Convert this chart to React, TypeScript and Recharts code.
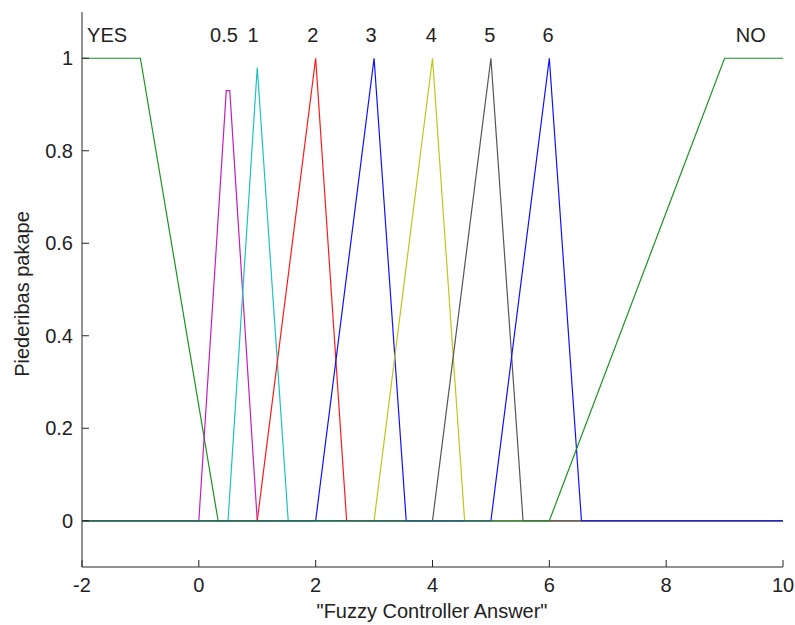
import React from 'react';
import { LineChart, Line, XAxis, YAxis, ReferenceDot } from 'recharts';

// membership functions, as [x, degree] vertices
const mfYes = [[-2, 1], [-1, 1], [0.33, 0], [10, 0]];
const mfHalf = [[-2, 0], [0, 0], [0.47, 0.93], [0.53, 0.93], [1, 0], [10, 0]];
const mfOne = [[-2, 0], [0.5, 0], [1, 0.98], [1.53, 0], [10, 0]];
const mfTwo = [[-2, 0], [1, 0], [2, 1], [2.53, 0], [10, 0]];
const mfThree = [[-2, 0], [2, 0], [3, 1], [3.55, 0], [10, 0]];
const mfFour = [[-2, 0], [3, 0], [4, 1], [4.55, 0], [10, 0]];
const mfFive = [[-2, 0], [4, 0], [5, 1], [5.55, 0], [10, 0]];
const mfSix = [[-2, 0], [5, 0], [6, 1], [6.55, 0], [10, 0]];
const mfNo = [[-2, 0], [6, 0], [9, 1], [10, 1]];

const mfNames = ['YES', '0.5', '1', '2', '3', '4', '5', '6', 'NO'];
const nameX = [-1.57, 0.43, 0.93, 1.95, 2.95, 3.98, 4.98, 5.98, 9.45];
const nameY = 1.05;

const xTicks = [-2, 0, 2, 4, 6, 8, 10];
const yTicks = [0, 0.2, 0.4, 0.6, 0.8, 1];

const series = [
  { key: 'yes', pts: mfYes, color: '#1a941f' },
  { key: 'half', pts: mfHalf, color: '#c21ec2' },
  { key: 'one', pts: mfOne, color: '#1ec2c2' },
  { key: 'two', pts: mfTwo, color: '#ff1a1a' },
  { key: 'three', pts: mfThree, color: '#1010ff' },
  { key: 'four', pts: mfFour, color: '#c4c41a' },
  { key: 'five', pts: mfFive, color: '#555555' },
  { key: 'six', pts: mfSix, color: '#1010ff' },
  { key: 'no', pts: mfNo, color: '#1a941f' },
];

const FONT = '"Liberation Sans", Arial, sans-serif';
const tickStyle = { fontSize: 20, fill: '#222', fontFamily: FONT };
const frame = '#262626';

export default function App() {
  return (
    <div style={{ position: 'absolute', left: 0, top: 0, width: 795, height: 625, background: '#fff' }}>
      <LineChart width={795} height={625} margin={{ top: 12, right: 12, bottom: 0, left: 0 }}>
        <XAxis
          type="number"
          dataKey="x"
          domain={[-2, 10]}
          ticks={xTicks}
          allowDataOverflow
          height={58}
          tickSize={-7}
          tickMargin={18}
          stroke={frame}
          tick={tickStyle}
        />
        <XAxis
          xAxisId="top"
          orientation="top"
          type="number"
          domain={[-2, 10]}
          ticks={xTicks}
          height={0}
          tickSize={-7}
          tick={false}
          stroke={frame}
        />
        <YAxis
          type="number"
          domain={[-0.1, 1.1]}
          ticks={yTicks}
          allowDataOverflow
          width={82}
          tickSize={-7}
          tickMargin={16}
          stroke={frame}
          tick={tickStyle}
        />
        <YAxis
          yAxisId="right"
          orientation="right"
          type="number"
          domain={[-0.1, 1.1]}
          ticks={yTicks}
          width={0}
          tickSize={-7}
          tick={false}
          stroke={frame}
        />
        {series.map(s => (
          <Line
            key={s.key}
            data={s.pts.map(([x, y]) => ({ x, y }))}
            dataKey="y"
            type="linear"
            stroke={s.color}
            strokeWidth={1.2}
            dot={false}
            activeDot={false}
            isAnimationActive={false}
          />
        ))}
        {mfNames.map((n, i) => (
          <ReferenceDot
            key={n}
            x={nameX[i]}
            y={nameY}
            r={0}
            stroke="none"
            fill="none"
            label={{ value: n, position: 'center', fontSize: 20, fill: '#222', fontFamily: FONT }}
          />
        ))}
      </LineChart>
      <svg width={795} height={625} style={{ position: 'absolute', left: 0, top: 0, pointerEvents: 'none' }}>
        <text x={432} y={618} textAnchor="middle" fontSize={20} fill="#222" fontFamily={FONT}>
          "Fuzzy Controller Answer"
        </text>
        <text transform="translate(28.5,294) rotate(-90)" textAnchor="middle" fontSize={20} fill="#222" fontFamily={FONT}>
          Piederibas pakape
        </text>
      </svg>
    </div>
  );
}
